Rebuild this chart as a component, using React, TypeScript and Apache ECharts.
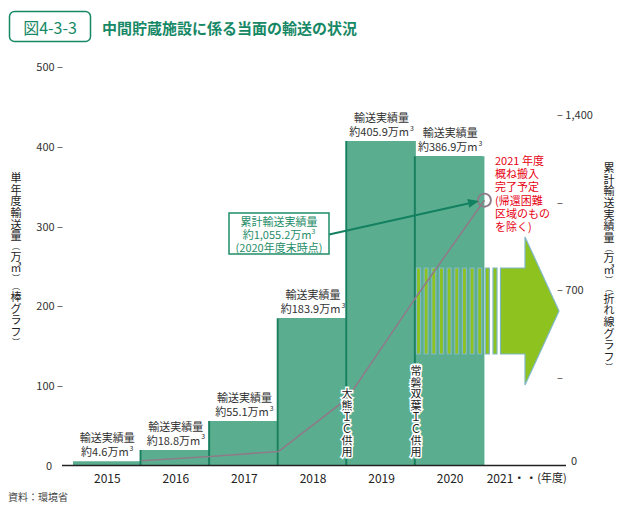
import React, { useEffect, useRef } from 'react';
import * as echarts from 'echarts';

const FONT = '"Noto Sans CJK JP", "Noto Sans", sans-serif';

// Categories (fiscal years)
const years = ['2015', '2016', '2017', '2018', '2019', '2020', '2021'];
// Single-year transport volume (万m³), bar chart
const annual: (number | null)[] = [4.6, 18.8, 55.1, 183.9, 405.9, 386.9, null];
const annualText = ['4.6', '18.8', '55.1', '183.9', '405.9', '386.9'];
// Fiscal-year-end boundaries for the cumulative line
const boundaries = ['s', 'e2015', 'e2016', 'e2017', 'e2018', 'e2019', 'e2020', 'e2021'];
// Cumulative transport volume (万m³), line chart
const cumulative: (number | null)[] = [null, 17, 34, 54, 265, 668, 1055.2, null];
// Axis ticks
const leftMax = 500;
const leftInterval = 100;
const rightMax = 1590;
const rightInterval = 350;
const rightTickLabels: Record<number, string> = { 0: '{z|0}', 350: '–', 700: '– 700', 1050: '–', 1400: '– 1,400' };

const BAR = '#5aae8f';
const DARK = '#13805f';
const LINE = '#8d7c88';
const LIME = '#8dc21f';
const LIMEB = '#7fb8c4';
const TITLE = '#178866';
const RED = '#e60012';

function verticalRich(parts: string[]): string {
  return parts
    .map((c) => (c === '︵' || c === '︶' ? `{p|${c}}` : `{c|${c}}`))
    .join('\n');
}

export default function App() {
  const ref = useRef<HTMLDivElement>(null);
  useEffect(() => {
    if (!ref.current) return;
    const chart = echarts.init(ref.current, undefined, { renderer: 'svg' });

    const stripes: any[] = [];
    for (let i = 0; i < 11; i++) {
      stripes.push({
        type: 'rect',
        z: 3,
        shape: { x: 416.5 + i * 7.65, y: 268, width: 4, height: 86 },
        style: { fill: LIME, stroke: LIMEB, lineWidth: 1.2 },
      });
    }

    const leftName = verticalRich([...'単年度輸送量', '︵', '万', '㎥', '︶', '︵', ...'棒グラフ', '︶']);
    const rightName = verticalRich([...'累計輸送実績量', '︵', '万', '㎥', '︶', '︵', ...'折れ線グラフ', '︶']);
    const vRich = {
      c: { fontSize: 11, lineHeight: 11.7, fill: '#222', fontFamily: FONT },
      p: { fontSize: 8, lineHeight: 8.5, fill: '#222', fontFamily: FONT },
    };

    const tip = [479, 201];
    const from = [328, 234.8];
    const dx = tip[0] - from[0];
    const dy = tip[1] - from[1];
    const len = Math.sqrt(dx * dx + dy * dy);
    const ux = dx / len, uy = dy / len;
    const bx = tip[0] - 11 * ux, by = tip[1] - 11 * uy;
    const nx = -uy, ny = ux;

    const option: any = {
      animation: false,
      textStyle: { fontFamily: FONT },
      grid: { left: 73, right: 72, top: 66, bottom: 47, containLabel: false },
      xAxis: [
        {
          type: 'category',
          data: years,
          boundaryGap: true,
          axisLine: { show: false },
          axisTick: { show: false },
          axisLabel: {
            interval: 0,
            color: '#222',
            fontSize: 12,
            margin: 6,
            formatter: (v: string) => (v === '2021' ? '{y|2021・・}{n|(年度)}' : v),
            rich: {
              y: { fontSize: 12, color: '#222', padding: [0, 0, 0, 16], fontFamily: FONT },
              n: { fontSize: 11, color: '#222', fontFamily: FONT },
            },
          },
        },
        {
          type: 'category',
          data: boundaries,
          boundaryGap: false,
          show: false,
        },
      ],
      yAxis: [
        {
          type: 'value',
          min: 0,
          max: leftMax,
          interval: leftInterval,
          splitLine: { show: false },
          axisLine: { show: false },
          axisTick: { show: false },
          axisLabel: {
            color: '#333',
            fontSize: 11,
            margin: 10,
            formatter: (v: number) => (v === 0 ? '{z|0}' : `${v} –`),
            rich: { z: { fontSize: 11, color: '#333', padding: [0, 11, 0, 0], fontFamily: FONT } },
          },
        },
        {
          type: 'value',
          min: 0,
          max: rightMax,
          interval: rightInterval,
          position: 'right',
          splitLine: { show: false },
          axisLine: { show: false },
          axisTick: { show: false },
          axisLabel: {
            color: '#333',
            fontSize: 11,
            margin: 4,
            formatter: (v: number) => rightTickLabels[v] ?? '',
            rich: { z: { fontSize: 11, color: '#333', padding: [0, 0, 10, 14], fontFamily: FONT } },
          },
        },
      ],
      series: [
        {
          type: 'bar',
          xAxisIndex: 0,
          yAxisIndex: 0,
          barCategoryGap: '0%',
          data: annual.map((v, i) =>
            v == null
              ? '-'
              : {
                  value: v,
                  itemStyle: i === 0 ? { shadowColor: 'rgba(0,0,0,0)', shadowOffsetX: 0 } : undefined,
                }
          ),
          itemStyle: { color: BAR, shadowColor: DARK, shadowOffsetX: -2, shadowOffsetY: 0, shadowBlur: 0 },
          label: {
            show: true,
            position: 'top',
            distance: 3,
            formatter: (p: any) => `{a|輸送実績量}\n{a|約${annualText[p.dataIndex]}万m}{s|3}`,
            rich: {
              a: { fontSize: 11, lineHeight: 14, color: '#333', fontFamily: FONT },
              s: { fontSize: 7, lineHeight: 14, color: '#333', verticalAlign: 'top', padding: [0, 0, 0, 1], fontFamily: FONT },
            },
          },
          z: 2,
        },
        {
          type: 'line',
          xAxisIndex: 1,
          yAxisIndex: 1,
          data: cumulative.map((v, i) =>
            v == null
              ? '-'
              : i === 6
              ? {
                  value: v,
                  symbol: 'circle',
                  symbolSize: 13,
                  itemStyle: { color: 'rgba(0,0,0,0)', borderColor: LINE, borderWidth: 1.8 },
                }
              : v
          ),
          symbol: 'none',
          showSymbol: true,
          lineStyle: { color: LINE, width: 1.6 },
          z: 5,
        },
      ],
      graphic: [
        // Title
        {
          type: 'rect',
          shape: { x: 9.5, y: 11.5, width: 81, height: 30, r: 5 },
          style: { fill: '#fff', stroke: TITLE, lineWidth: 1.5 },
        },
        {
          type: 'text',
          x: 50,
          y: 27,
          style: { text: '図4-3-3', fill: TITLE, fontSize: 16, fontFamily: FONT, align: 'center', verticalAlign: 'middle' },
        },
        {
          type: 'text',
          x: 102,
          y: 27,
          style: {
            text: '中間貯蔵施設に係る当面の輸送の状況',
            fill: TITLE,
            fontSize: 15,
            fontWeight: 'bold',
            fontFamily: FONT,
            align: 'left',
            verticalAlign: 'middle',
          },
        },
        // Axis names (vertical)
        {
          type: 'text',
          x: 16,
          y: 171,
          style: { text: leftName, rich: vRich, align: 'center', verticalAlign: 'top', fontFamily: FONT },
        },
        {
          type: 'text',
          x: 609,
          y: 161,
          style: { text: rightName, rich: vRich, align: 'center', verticalAlign: 'top', fontFamily: FONT },
        },
        // Baseline
        {
          type: 'line',
          z: 6,
          shape: { x1: 62, y1: 465.5, x2: 566, y2: 465.5 },
          style: { stroke: '#222', lineWidth: 1.6 },
        },
        // Striped arrow
        ...stripes,
        {
          type: 'polygon',
          z: 3,
          shape: {
            points: [
              [500.5, 268],
              [525, 268],
              [525, 237],
              [559, 311],
              [525, 385],
              [525, 354],
              [500.5, 354],
            ],
          },
          style: { fill: LIME, stroke: LIMEB, lineWidth: 1.2 },
        },
        // Vertical annotations
        {
          type: 'text',
          z: 7,
          x: 347,
          y: 457,
          style: {
            text: '大\n熊\nＩ\nＣ\n供\n用',
            fill: '#222',
            stroke: '#fff',
            lineWidth: 3,
            fontSize: 11,
            lineHeight: 11.6,
            fontFamily: FONT,
            align: 'center',
            verticalAlign: 'bottom',
          },
        },
        {
          type: 'text',
          z: 7,
          x: 416,
          y: 457,
          style: {
            text: '常\n磐\n双\n葉\nＩ\nＣ\n供\n用',
            fill: '#222',
            stroke: '#fff',
            lineWidth: 3,
            fontSize: 11,
            lineHeight: 11.6,
            fontFamily: FONT,
            align: 'center',
            verticalAlign: 'bottom',
          },
        },
        // Callout
        {
          type: 'line',
          z: 8,
          shape: { x1: from[0], y1: from[1], x2: bx, y2: by },
          style: { stroke: DARK, lineWidth: 2 },
        },
        {
          type: 'polygon',
          z: 8,
          shape: {
            points: [
              [tip[0], tip[1]],
              [bx + 4.5 * nx, by + 4.5 * ny],
              [bx - 4.5 * nx, by - 4.5 * ny],
            ],
          },
          style: { fill: DARK },
        },
        {
          type: 'rect',
          z: 8,
          shape: { x: 229, y: 213, width: 100, height: 41 },
          style: { fill: '#fff', stroke: '#1f8d68', lineWidth: 1.5 },
        },
        {
          type: 'text',
          z: 9,
          x: 279,
          y: 233.5,
          style: {
            text: '{t|累計輸送実績量}\n{t|約1,055.2万m}{s|3}\n{t|(2020年度末時点)}',
            rich: {
              t: { fontSize: 11, lineHeight: 13, fill: '#1f8d68', fontFamily: FONT },
              s: { fontSize: 7, lineHeight: 13, fill: '#1f8d68', verticalAlign: 'top', fontFamily: FONT },
            },
            align: 'center',
            verticalAlign: 'middle',
          },
        },
        // Red note
        {
          type: 'text',
          z: 9,
          x: 495,
          y: 153,
          style: {
            text: '2021 年度\n概ね搬入\n完了予定\n(帰還困難\n区域のもの\nを除く)',
            fill: RED,
            fontSize: 11,
            lineHeight: 13.3,
            fontFamily: FONT,
            align: 'left',
            verticalAlign: 'top',
          },
        },
        // Source
        {
          type: 'text',
          x: 8,
          y: 496,
          style: { text: '資料：環境省', fill: '#444', fontSize: 10, fontFamily: FONT, align: 'left', verticalAlign: 'middle' },
        },
      ],
    };

    chart.setOption(option);
    return () => chart.dispose();
  }, []);

  return <div ref={ref} style={{ width: 625, height: 512, margin: -8 }} />;
}
